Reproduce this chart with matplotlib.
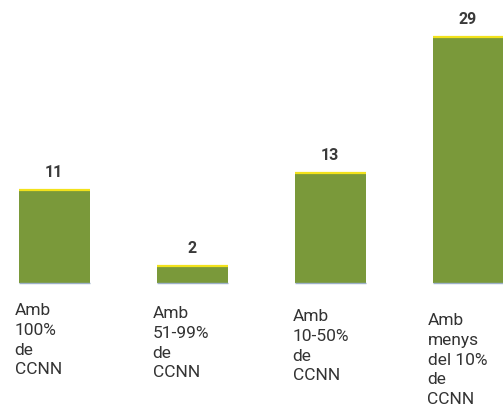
import matplotlib
matplotlib.use("Agg")
import matplotlib.pyplot as plt

categories = ["Amb\n100%\nde\nCCNN", "Amb\n51-99%\nde\nCCNN", "Amb\n10-50%\nde\nCCNN", "Amb\nmenys\ndel 10%\nde\nCCNN"]
values = [11, 2, 13, 29]

W, H = 503, 413
fig = plt.figure(figsize=(W / 100, H / 100), dpi=100)
ax = fig.add_axes([0, 0, 1, 1])

spacing = 138.0
c0 = 54.0
ppu = 8.5
base_px = 283.0  # from top

ax.set_xlim(-c0 / spacing, (W - c0) / spacing)
ax.set_ylim(-(H - base_px) / ppu, base_px / ppu)
ax.axis("off")

x = list(range(len(values)))
bw = 71 / spacing
ax.bar(x, values, width=bw, color="#7a993a", edgecolor="none", zorder=2)
# yellow top edge and faint bluish bottom edge
ax.hlines(values, [i - bw / 2 for i in x], [i + bw / 2 for i in x], colors="#f2e21c", lw=1.6, zorder=3)
ax.hlines([0] * len(values), [i - bw / 2 for i in x], [i + bw / 2 for i in x], colors="#9db0c8", lw=1.0, zorder=3)

for i, v in enumerate(values):
    ax.annotate(str(v), (i, v), xytext=(0, 7), textcoords="offset points",
                ha="center", va="bottom", fontsize=11.5, fontweight="bold",
                color="#3a3a3a", family="Roboto")

label_tops_px = [303, 306, 309, 313]
label_dx_px = [-4, -4, -2, -5]
for i, lab in enumerate(categories):
    yd = (base_px - label_tops_px[i]) / ppu
    ax.text(i - bw / 2 + label_dx_px[i] / spacing, yd, lab, ha="left", va="top",
            fontsize=12.5, color="#333333", family="Roboto", linespacing=1.4)

fig.savefig("out.png", dpi=100)
